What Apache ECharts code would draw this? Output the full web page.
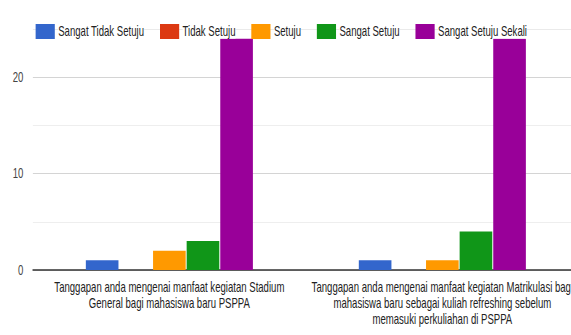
<!DOCTYPE html>
<html>
<head>
<meta charset="utf-8">
<script src="https://cdn.jsdelivr.net/npm/echarts@6/dist/echarts.min.js"></script>
<style>
html, body { margin: 0; padding: 0; overflow: hidden; background: #fff; width: 571px; height: 335px; }
#main { width: 870px; height: 335px; transform: scaleX(0.685); transform-origin: 0 0; }
</style>
</head>
<body>
<div id="main"></div>
<script>
// Data
var categories = [
  'Tanggapan anda mengenai manfaat kegiatan Stadium\nGeneral bagi mahasiswa baru PSPPA',
  'Tanggapan anda mengenai manfaat kegiatan Matrikulasi bagi\nmahasiswa baru sebagai kuliah refreshing sebelum\nmemasuki perkuliahan di PSPPA'
];
var seriesNames = ['Sangat Tidak Setuju', 'Tidak Setuju', 'Setuju', 'Sangat Setuju', 'Sangat Setuju Sekali'];
var sangatTidakSetuju = [1, 1];
var tidakSetuju = [0, 0];
var setuju = [2, 1];
var sangatSetuju = [3, 4];
var sangatSetujuSekali = [24, 24];
var yTickLabels = [0, 10, 20];

var values = [sangatTidakSetuju, tidakSetuju, setuju, sangatSetuju, sangatSetujuSekali];
var colors = ['#3366cc', '#dc3912', '#ff9900', '#109618', '#990099'];
var FONT = '"Liberation Sans", Arial, sans-serif';

var chart = echarts.init(document.getElementById('main'), null, { renderer: 'svg' });
chart.setOption({
  animation: false,
  color: colors,
  textStyle: { fontFamily: FONT },
  legend: {
    top: 19,
    left: 47,
    itemWidth: 28,
    itemHeight: 15,
    itemGap: 23,
    icon: 'rect',
    textStyle: { fontSize: 14, color: '#222', fontFamily: FONT, backgroundColor: '#fff' },
    data: seriesNames
  },
  grid: { left: 48, top: 29, width: 797, height: 241 },
  xAxis: {
    type: 'category',
    data: categories,
    axisLine: { show: true, lineStyle: { color: '#333', width: 1.5 } },
    axisTick: { show: false },
    axisLabel: {
      interval: 0,
      margin: 9,
      fontSize: 14,
      lineHeight: 16,
      color: '#222',
      fontFamily: FONT,
      align: 'center'
    },
    splitLine: { show: false }
  },
  yAxis: {
    type: 'value',
    min: 0,
    max: 25,
    interval: 5,
    axisLine: { show: false },
    axisTick: { show: false },
    axisLabel: {
      margin: 14,
      fontSize: 14,
      color: '#444',
      fontFamily: FONT,
      formatter: function (v) { return yTickLabels.indexOf(v) >= 0 ? String(v) : ''; }
    },
    splitLine: {
      show: true,
      lineStyle: { color: ['#cccccc', '#ebebeb', '#cccccc', '#ebebeb', '#cccccc', '#e6e6e6'], width: 1 }
    }
  },
  series: seriesNames.map(function (name, i) {
    return {
      name: name,
      type: 'bar',
      data: values[i],
      barGap: '3%',
      barCategoryGap: '38.8%',
      itemStyle: { color: colors[i] }
    };
  })
});
</script>
</body>
</html>
